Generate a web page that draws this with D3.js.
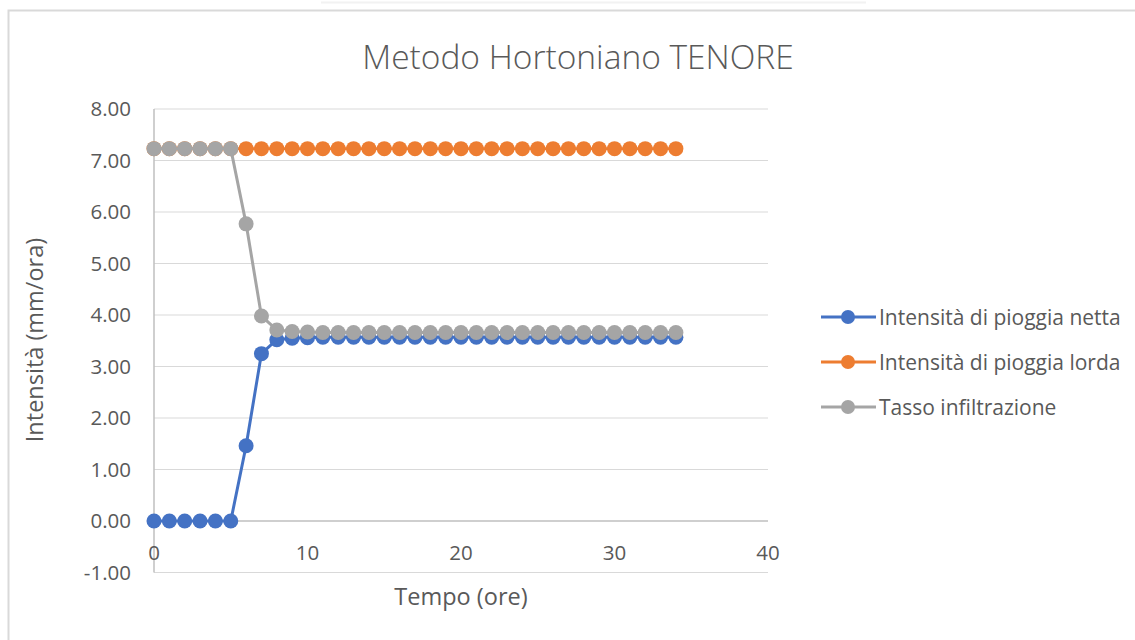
<!DOCTYPE html>
<html><head><meta charset="utf-8">
<script src="https://cdn.jsdelivr.net/npm/d3@7/dist/d3.min.js"></script>
<style>
body{margin:0;background:#fff;}
svg{display:block;font-family:"Open Sans",sans-serif;}
</style></head>
<body><svg id="c" width="1135" height="640"></svg>
<script>
const tempo = d3.range(0, 35);
const netta = [0,0,0,0,0,0,1.46,3.25,3.52,3.55,3.56,3.57,3.57,3.57,3.57,3.57,3.57,3.57,3.57,3.57,3.57,3.57,3.57,3.57,3.57,3.57,3.57,3.57,3.57,3.57,3.57,3.57,3.57,3.57,3.57];
const lorda = tempo.map(() => 7.23);
const infiltrazione = [7.23,7.23,7.23,7.23,7.23,7.23,5.77,3.98,3.71,3.68,3.67,3.66,3.66,3.66,3.66,3.66,3.66,3.66,3.66,3.66,3.66,3.66,3.66,3.66,3.66,3.66,3.66,3.66,3.66,3.66,3.66,3.66,3.66,3.66,3.66];
const yTicks = [-1,0,1,2,3,4,5,6,7,8];
const xTicks = [0,10,20,30,40];
const seriesNames = ["Intensità di pioggia netta","Intensità di pioggia lorda","Tasso infiltrazione"];
const seriesColors = ["#4472C4","#ED7D31","#A5A5A5"];
const seriesData = [netta, lorda, infiltrazione];

const svg = d3.select("#c");
const txt = "#595959";

// outer frame
svg.append("line").attr("x1",321).attr("x2",866).attr("y1",2.5).attr("y2",2.5).attr("stroke","#f2f2f2").attr("stroke-width",2);
svg.append("path").attr("d","M8.5,640 V10.5 H1135").attr("fill","none").attr("stroke","#d9d9d9").attr("stroke-width",2);

const x = d3.scaleLinear().domain([0,40]).range([154,768]);
const y = d3.scaleLinear().domain([-1,8]).range([572.5,109]);

// gridlines
svg.append("g").selectAll("line").data(yTicks).join("line")
  .attr("x1",x(0)).attr("x2",x(40)).attr("y1",d=>y(d)).attr("y2",d=>y(d))
  .attr("stroke",d=>d===0?"#bfbfbf":"#d9d9d9").attr("stroke-width",d=>d===0?1.5:1.2);

// y axis line
svg.append("line").attr("x1",x(0)).attr("x2",x(0)).attr("y1",y(8)).attr("y2",y(-1)).attr("stroke","#bfbfbf").attr("stroke-width",1.5);

const fmt = d => d3.format(".2f")(d).replace("\u2212","-");
// y tick labels
svg.append("g").selectAll("text").data(yTicks).join("text")
  .attr("x",131).attr("y",d=>y(d)).attr("dy","0.36em").attr("text-anchor","end")
  .attr("font-size",20.5).attr("fill",txt).text(fmt);

// x tick labels
svg.append("g").selectAll("text").data(xTicks).join("text")
  .attr("x",d=>x(d)).attr("y",553).attr("dy","0.36em").attr("text-anchor","middle")
  .attr("font-size",20.5).attr("fill",txt).text(d=>d);

// title
svg.append("text").attr("x",578).attr("y",57).attr("dy","0.36em").attr("text-anchor","middle")
  .attr("font-size",33.5).attr("font-weight",300).attr("fill",txt).text("Metodo Hortoniano TENORE");

// axis titles
svg.append("text").attr("x",461).attr("y",597).attr("dy","0.36em").attr("text-anchor","middle")
  .attr("font-size",23.5).attr("fill",txt).text("Tempo (ore)");
svg.append("text").attr("transform","translate(35,340) rotate(-90)").attr("dy","0.36em").attr("text-anchor","middle")
  .attr("font-size",23.5).attr("fill",txt).text("Intensità (mm/ora)");

// series
const line = d3.line().x((d,i)=>x(tempo[i])).y(d=>y(d));
seriesData.forEach((s,k)=>{
  const g = svg.append("g");
  g.append("path").datum(s).attr("d",line).attr("fill","none")
    .attr("stroke",seriesColors[k]).attr("stroke-width",3).attr("stroke-linejoin","round");
  g.selectAll("circle").data(s).join("circle")
    .attr("cx",(d,i)=>x(tempo[i])).attr("cy",d=>y(d)).attr("r",7.5).attr("fill",seriesColors[k]);
});

// legend
const lg = svg.append("g");
seriesNames.forEach((n,k)=>{
  const yy = 317 + k*45;
  lg.append("line").attr("x1",821).attr("x2",876).attr("y1",yy).attr("y2",yy).attr("stroke",seriesColors[k]).attr("stroke-width",3);
  lg.append("circle").attr("cx",848).attr("cy",yy).attr("r",7).attr("fill",seriesColors[k]);
  lg.append("text").attr("x",879).attr("y",yy).attr("dy","0.36em").attr("font-size",21).attr("fill",txt).text(n);
});
</script></body></html>
